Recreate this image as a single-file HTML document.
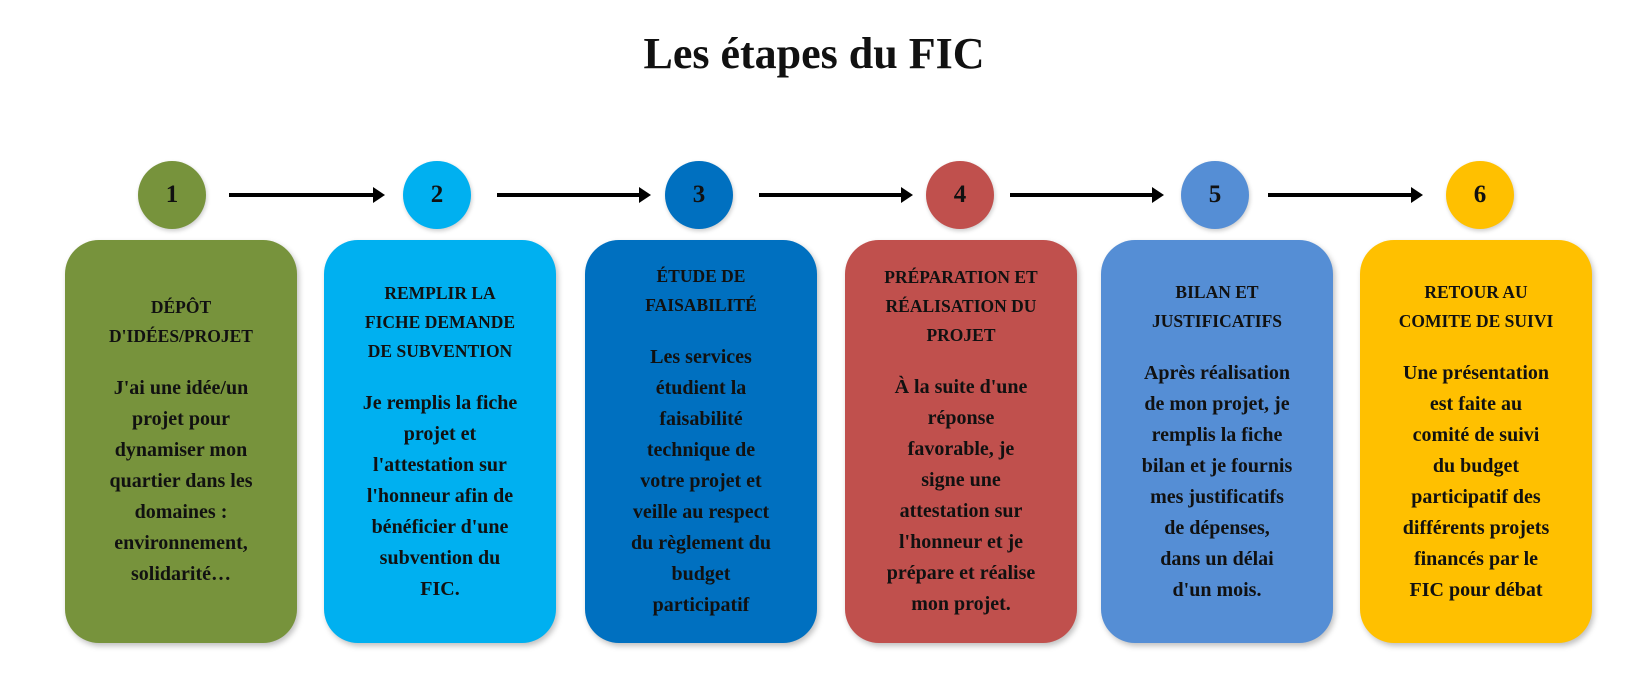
<!DOCTYPE html>
<html><head><meta charset="utf-8"><style>
body{margin:0;width:1640px;height:698px;background:#fff;position:relative;overflow:hidden;font-family:"Liberation Serif",serif;color:#111;}
h1{position:absolute;top:28px;left:0;width:1628px;text-align:center;margin:0;font-size:44px;font-weight:bold;}
.c{position:absolute;top:161px;width:68px;height:68px;border-radius:50%;text-align:center;line-height:68px;font-weight:bold;font-size:25px;box-shadow:1px 2px 4px rgba(0,0,0,.2);}
.b{position:absolute;top:240px;height:403px;width:232px;border-radius:34px;display:flex;flex-direction:column;justify-content:center;align-items:center;text-align:center;font-weight:bold;box-shadow:2px 3px 6px rgba(0,0,0,.25);white-space:nowrap;}
.h{font-size:17.5px;line-height:29px;margin-bottom:22px;}
.t{font-size:20px;line-height:31px;}
.a{position:absolute;top:193px;height:4px;background:#000;}
.a:after{content:"";position:absolute;right:-6px;top:-6px;border-left:12px solid #000;border-top:8px solid transparent;border-bottom:8px solid transparent;}
</style></head><body>
<h1>Les étapes du FIC</h1>
<div class="c" style="left:138px;background:#77933c">1</div>
<div class="c" style="left:403px;background:#00b0f0">2</div>
<div class="c" style="left:665px;background:#0070c0">3</div>
<div class="c" style="left:926px;background:#c0504d">4</div>
<div class="c" style="left:1181px;background:#558ed5">5</div>
<div class="c" style="left:1446px;background:#ffc000">6</div>
<div class="a" style="left:229px;width:150px"></div>
<div class="a" style="left:497px;width:148px"></div>
<div class="a" style="left:759px;width:148px"></div>
<div class="a" style="left:1010px;width:148px"></div>
<div class="a" style="left:1268px;width:149px"></div>
<div class="b" style="left:65px;background:#77933c"><div class="h">DÉPÔT<br>D'IDÉES/PROJET</div><div class="t">J'ai une idée/un<br>projet pour<br>dynamiser mon<br>quartier dans les<br>domaines :<br>environnement,<br>solidarité…</div></div>
<div class="b" style="left:324px;background:#00b0f0"><div class="h">REMPLIR LA<br>FICHE DEMANDE<br>DE SUBVENTION</div><div class="t">Je remplis la fiche<br>projet et<br>l'attestation sur<br>l'honneur afin de<br>bénéficier d'une<br>subvention du<br>FIC.</div></div>
<div class="b" style="left:585px;background:#0070c0"><div class="h">ÉTUDE DE<br>FAISABILITÉ</div><div class="t">Les services<br>étudient la<br>faisabilité<br>technique de<br>votre projet et<br>veille au respect<br>du règlement du<br>budget<br>participatif</div></div>
<div class="b" style="left:845px;background:#c0504d"><div class="h">PRÉPARATION ET<br>RÉALISATION DU<br>PROJET</div><div class="t">À la suite d'une<br>réponse<br>favorable, je<br>signe une<br>attestation sur<br>l'honneur et je<br>prépare et réalise<br>mon projet.</div></div>
<div class="b" style="left:1101px;background:#558ed5"><div class="h">BILAN ET<br>JUSTIFICATIFS</div><div class="t">Après réalisation<br>de mon projet, je<br>remplis la fiche<br>bilan et je fournis<br>mes justificatifs<br>de dépenses,<br>dans un délai<br>d'un mois.</div></div>
<div class="b" style="left:1360px;background:#ffc000"><div class="h">RETOUR AU<br>COMITE DE SUIVI</div><div class="t">Une présentation<br>est faite au<br>comité de suivi<br>du budget<br>participatif des<br>différents projets<br>financés par le<br>FIC pour débat</div></div>
</body></html>
